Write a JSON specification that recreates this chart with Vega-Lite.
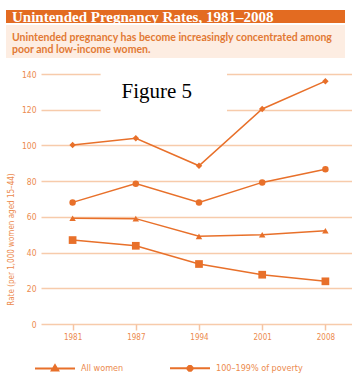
{
  "$schema": "https://vega.github.io/schema/vega-lite/v6.json",
  "padding": {"left": 6, "top": 10, "right": 0, "bottom": 0},
  "background": "white",
  "config": {
    "view": {"stroke": null},
    "font": "Lato",
    "axisY": {
      "tickCount": 7,
      "labelOverlap": false,
      "domain": false,
      "ticks": false,
      "grid": true,
      "gridColor": "#F7CBAB",
      "gridWidth": 1.5,
      "labelColor": "#EC8A4E",
      "labelFont": "Liberation Sans Narrow, DejaVu Sans Condensed, Roboto",
      "labelFontSize": 8.5,
      "labelPadding": 5,
      "titleFont": "Liberation Sans Narrow, DejaVu Sans Condensed, Roboto",
      "titleFontSize": 8,
      "titleFontWeight": "normal",
      "titleColor": "#EC8A4E",
      "titlePadding": 6,
      "minExtent": 0
    },
    "axisX": {
      "labelAngle": 0,
      "domain": false,
      "grid": false,
      "ticks": true,
      "tickSize": 6,
      "tickWidth": 1.5,
      "tickColor": "#F6C4A2",
      "labelPadding": 3,
      "labelColor": "#EC8A4E",
      "labelFont": "Liberation Sans Narrow, DejaVu Sans Condensed, Roboto",
      "labelFontSize": 8
    }
  },
  "spacing": 10,
  "vconcat": [
    {
      "spacing": 0,
      "vconcat": [
        {
          "width": 304,
          "height": 13,
          "data": {"values": [{"label": "Unintended Pregnancy Rates, 1981–2008"}]},
          "layer": [
            {
              "mark": {"type": "rect", "fill": "#E36B21"},
              "encoding": {
                "x": {"datum": 0, "type": "quantitative", "scale": {"domain": [35, 339], "nice": false, "zero": false}, "axis": null},
                "x2": {"datum": 339},
                "y": {"datum": 0, "type": "quantitative", "scale": {"domain": [0, 1], "nice": false}, "axis": null},
                "y2": {"datum": 1}
              }
            },
            {
              "mark": {"type": "text", "align": "left", "baseline": "middle", "dx": 6, "dy": 0.5, "color": "white", "font": "Liberation Serif", "fontSize": 15, "fontWeight": "bold"},
              "encoding": {
                "x": {"datum": 0, "type": "quantitative"},
                "y": {"datum": 0.5, "type": "quantitative"},
                "text": {"field": "label"}
              }
            }
          ]
        },
        {
          "width": 304,
          "height": 33,
          "data": {"values": [{"label": ["Unintended pregnancy has become increasingly concentrated among", "poor and low-income women."]}]},
          "layer": [
            {
              "mark": {"type": "rect", "fill": "#FDEDE2"},
              "encoding": {
                "x": {"datum": 0, "type": "quantitative", "scale": {"domain": [35, 339], "nice": false, "zero": false}, "axis": null},
                "x2": {"datum": 339},
                "y": {"datum": 0, "type": "quantitative", "scale": {"domain": [0, 1], "nice": false}, "axis": null},
                "y2": {"datum": 1}
              }
            },
            {
              "mark": {"type": "text", "align": "left", "baseline": "middle", "dx": 6, "dy": -4, "lineHeight": 12, "color": "#E27934", "font": "Lato", "fontSize": 10.5, "fontWeight": "bold"},
              "encoding": {
                "x": {"datum": 0, "type": "quantitative"},
                "y": {"datum": 0.5, "type": "quantitative"},
                "text": {"field": "label"}
              }
            }
          ]
        }
      ]
    },
    {
      "width": 316,
      "height": 250,
      "data": {
        "values": [
          {"year": "1981", "series": "All women", "rate": 59.2},
          {"year": "1987", "series": "All women", "rate": 59},
          {"year": "1994", "series": "All women", "rate": 49.1},
          {"year": "2001", "series": "All women", "rate": 50},
          {"year": "2008", "series": "All women", "rate": 52.2},
          {"year": "1981", "series": "100–199% of poverty", "rate": 68.1},
          {"year": "1987", "series": "100–199% of poverty", "rate": 78.6},
          {"year": "1994", "series": "100–199% of poverty", "rate": 68.1},
          {"year": "2001", "series": "100–199% of poverty", "rate": 79.3},
          {"year": "2008", "series": "100–199% of poverty", "rate": 86.6},
          {"year": "1981", "series": "<100% of poverty", "rate": 100.2},
          {"year": "1987", "series": "<100% of poverty", "rate": 104},
          {"year": "1994", "series": "<100% of poverty", "rate": 88.6},
          {"year": "2001", "series": "<100% of poverty", "rate": 120.4},
          {"year": "2008", "series": "<100% of poverty", "rate": 136},
          {"year": "1981", "series": "≥200% of poverty", "rate": 47},
          {"year": "1987", "series": "≥200% of poverty", "rate": 43.8},
          {"year": "1994", "series": "≥200% of poverty", "rate": 33.6},
          {"year": "2001", "series": "≥200% of poverty", "rate": 27.6},
          {"year": "2008", "series": "≥200% of poverty", "rate": 23.9}
        ]
      },
      "layer": [
        {
          "mark": {"type": "line", "color": "#E8702A", "strokeWidth": 1.5},
          "encoding": {
            "x": {
              "field": "year",
              "type": "ordinal",
              "scale": {"type": "point", "padding": 0.5, "domain": ["1981", "1987", "1994", "2001", "2008"]},
              "axis": {"title": null}
            },
            "y": {
              "field": "rate",
              "type": "quantitative",
              "scale": {"domain": [0, 140], "nice": false, "zero": true},
              "axis": {
                "title": "Rate (per 1,000 women aged 15–44)",
                "tickCount": 7,
                "titleY": 165
              }
            },
            "detail": {"field": "series"}
          }
        },
        {
          "mark": {"type": "point", "filled": true, "opacity": 1, "size": 42},
          "encoding": {
            "x": {"field": "year", "type": "ordinal"},
            "y": {"field": "rate", "type": "quantitative"},
            "shape": {
              "field": "series",
              "type": "nominal",
              "scale": {"domain": ["All women", "100–199% of poverty", "<100% of poverty", "≥200% of poverty"], "range": ["triangle-up", "circle", "diamond", "M-1.19,-1.19L1.19,-1.19L1.19,1.19L-1.19,1.19Z"]},
              "legend": null
            },
            "color": {
              "field": "series",
              "type": "nominal",
              "scale": {"domain": ["All women", "<100% of poverty", "100–199% of poverty", "≥200% of poverty"], "range": ["#E8702A", "#E8702A", "#E8702A", "#E8702A"]},
              "legend": {
                "title": null,
                "orient": "none",
                "legendX": -7,
                "legendY": 337,
                "padding": 0,
                "columns": 2,
                "columnPadding": 10,
                "rowPadding": 3,
                "symbolSize": 1600,
                "symbolType": {"expr": "(datum && datum.value === 'All women') ? 'M-1,0L1,0M0,-0.16L0.16,0.11L-0.16,0.11Z' : (datum && datum.value === '<100% of poverty') ? 'M-1,0L1,0M0,-0.15L0.15,0L0,0.15L-0.15,0Z' : (datum && datum.value === '100–199% of poverty') ? 'M-1,0L1,0M0.12,0.05L0.05,0.12L-0.05,0.12L-0.12,0.05L-0.12,-0.05L-0.05,-0.12L0.05,-0.12L0.12,-0.05Z' : 'M-1,0L1,0M-0.17,-0.17L0.17,-0.17L0.17,0.17L-0.17,0.17Z'"},
                "symbolStrokeWidth": 2,
                "symbolStrokeColor": "#E8702A",
                "labelOffset": 5,
                "labelColor": "#EC8A4E",
                "labelFont": "Liberation Sans Narrow, DejaVu Sans Condensed, Roboto",
                "labelFontSize": 9,
                "encode": {
                  "symbols": {
                    "size": {"value": 1600},
                    "stroke": {"value": "#E8702A"},
                    "strokeWidth": {"value": 2},
                    "opacity": {"value": 1}
                  }
                }
              }
            }
          }
        },
        {
          "data": {"values": [{"note": "Figure 5"}]},
          "mark": {"type": "rect", "fill": "white", "xOffset": 28, "x2Offset": 28},
          "encoding": {
            "x": {"datum": "1981", "type": "ordinal"},
            "x2": {"datum": "1994"},
            "y": {"datum": 142.8, "type": "quantitative"},
            "y2": {"datum": 117.6}
          }
        },
        {
          "data": {"values": [{"note": "Figure 5"}]},
          "mark": {"type": "text", "font": "Liberation Serif", "fontSize": 21, "color": "black", "dx": 21, "baseline": "alphabetic", "align": "center"},
          "encoding": {
            "x": {"datum": "1987", "type": "ordinal"},
            "y": {"datum": 126.5, "type": "quantitative"},
            "text": {"field": "note"}
          }
        }
      ]
    }
  ]
}
